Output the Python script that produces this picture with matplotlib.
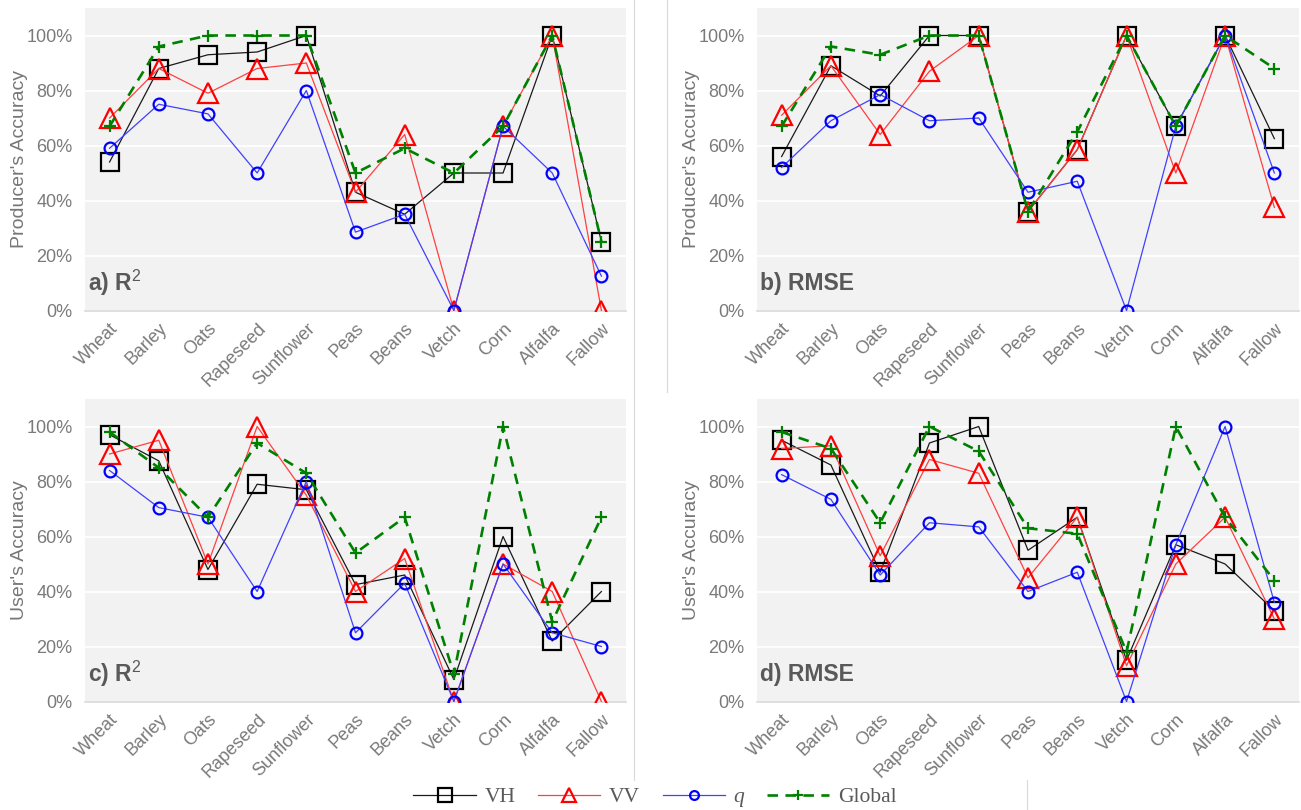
import matplotlib
matplotlib.use('Agg')
import matplotlib.pyplot as plt
from matplotlib.lines import Line2D

categories = ['Wheat', 'Barley', 'Oats', 'Rapeseed', 'Sunflower', 'Peas',
              'Beans', 'Vetch', 'Corn', 'Alfalfa', 'Fallow']
y_ticks = [0, 20, 40, 60, 80, 100]
y_tick_labels = ['0%', '20%', '40%', '60%', '80%', '100%']

# a) Producer's accuracy, R2
pa_r2_vh = [54, 88, 93, 94, 100, 43, 35, 50, 50, 100, 25]
pa_r2_vv = [70, 88, 79, 88, 90, 43, 64, 0, 67, 100, 0]
pa_r2_q = [59, 75, 71.5, 50, 80, 28.5, 35, 0, 67, 50, 12.5]
pa_r2_global = [67, 96, 100, 100, 100, 50, 59, 50, 67, 100, 25]

# b) Producer's accuracy, RMSE
pa_rmse_vh = [56, 89, 78, 100, 100, 36, 58.5, 100, 67, 100, 62.5]
pa_rmse_vv = [71, 89, 64, 87, 100, 36, 58.5, 100, 50, 100, 37.5]
pa_rmse_q = [52, 69, 78.5, 69, 70, 43, 47, 0, 67, 100, 50]
pa_rmse_global = [67, 96, 93, 100, 100, 36, 65, 100, 67, 100, 88]

# c) User's accuracy, R2
ua_r2_vh = [97, 87.5, 48, 79, 77, 42.5, 46, 8, 60, 22, 40]
ua_r2_vv = [90, 95, 50, 100, 75, 40, 52, 0, 50, 40, 0]
ua_r2_q = [84, 70.5, 67, 40, 80, 25, 43, 0, 50, 25, 20]
ua_r2_global = [98, 85, 67, 94, 83, 54, 67, 10, 100, 29, 67]

# d) User's accuracy, RMSE
ua_rmse_vh = [95, 86, 47, 94, 100, 55, 67, 15, 57, 50, 33]
ua_rmse_vv = [92, 93, 53, 88, 83, 45, 67, 13, 50, 67, 30]
ua_rmse_q = [82.5, 73.5, 46, 65, 63.5, 40, 47, 0, 57, 100, 36]
ua_rmse_global = [98, 92, 65, 100, 91, 63, 61, 18, 100, 67, 44]

panels = [
    ('a) R$^{2}$', "Producer's Accuracy", pa_r2_vh, pa_r2_vv, pa_r2_q, pa_r2_global),
    ('b) RMSE', "Producer's Accuracy", pa_rmse_vh, pa_rmse_vv, pa_rmse_q, pa_rmse_global),
    ('c) R$^{2}$', "User's Accuracy", ua_r2_vh, ua_r2_vv, ua_r2_q, ua_r2_global),
    ('d) RMSE', "User's Accuracy", ua_rmse_vh, ua_rmse_vv, ua_rmse_q, ua_rmse_global),
]

plt.rcParams['font.family'] = ['Liberation Sans', 'DejaVu Sans']
plt.rcParams['mathtext.fontset'] = 'custom'
plt.rcParams['mathtext.rm'] = 'Liberation Sans'
plt.rcParams['mathtext.bf'] = 'Liberation Sans:bold'

W, H = 1301, 810
fig = plt.figure(figsize=(W / 100, H / 100), dpi=100)

# axes rectangles in pixels: left, right, y of 0%, x of y-label right edge
rects = [(85, 626, 310.5, 28), (757, 1299, 310.5, 700),
         (85, 626, 701.5, 28), (757, 1299, 701.5, 700)]
ymax = 110
pxper = 2.75

styles = {
    'VH': dict(color='#1a1a1a', lw=0.9, marker='s', ms=12.5, mfc='none', mec='black', mew=1.6),
    'VV': dict(color='#ff4040', lw=0.9, marker='^', ms=14, mfc='none', mec='#ff0000', mew=1.6),
    'q': dict(color='#4040ff', lw=0.9, marker='o', ms=8.5, mfc='none', mec='#0000ff', mew=1.6),
    'Global': dict(color='#008000', lw=1.9, ls=(0, (4, 2.8)), marker='+', ms=9, mec='#008000', mew=1.6),
}

tick_color = '#7a7a7a'
x = list(range(len(categories)))

for (title, ylab, vh, vv, q, gl), (l, r, y0, lx) in zip(panels, rects):
    height_px = ymax * pxper
    ax = fig.add_axes([l / W, (H - y0) / H, (r - l) / W, height_px / H])
    ax.set_facecolor('#f2f2f2')
    ax.set_xlim(-0.5, len(categories) - 0.5)
    ax.set_ylim(0, ymax)
    ax.set_yticks(y_ticks)
    ax.set_yticklabels(y_tick_labels)
    ax.set_xticks(x)
    ax.set_xticklabels(categories, rotation=45, ha='right', va='top', rotation_mode='anchor')
    ax.tick_params(axis='both', length=0, labelsize=13, colors=tick_color)
    ax.tick_params(axis='y', pad=9)
    ax.tick_params(axis='x', pad=7)
    ax.grid(axis='y', color='white', lw=1.3)
    ax.set_axisbelow(True)
    for s in ['top', 'right', 'left']:
        ax.spines[s].set_visible(False)
    ax.spines['bottom'].set_color('#d9d9d9')
    ax.spines['bottom'].set_linewidth(1.2)
    ax.plot(x, vh, **styles['VH'], zorder=3)
    ax.plot(x, vv, **styles['VV'], zorder=4)
    ax.plot(x, q, **styles['q'], zorder=5)
    ax.plot(x, gl, **styles['Global'], zorder=6)
    ax.set_ylabel(ylab, fontsize=14, color='#767676')
    ax.yaxis.set_label_coords(-(l - lx) / (r - l), 0.5)
    ax.text(0.006, 0.09, title, transform=ax.transAxes, fontsize=16.5,
            fontweight='bold', color='#595959', ha='left', va='center', zorder=7)

# faint chart-area borders
def vline(xp, ya, yb):
    fig.add_artist(Line2D([xp / W, xp / W], [1 - ya / H, 1 - yb / H],
                          color='#d9d9d9', lw=0.8))

vline(634, 0, 780)
vline(667, 0, 392)
vline(1027, 780, 810)

handles = [
    Line2D([], [], **styles['VH']),
    Line2D([], [], **styles['VV']),
    Line2D([], [], **styles['q']),
    Line2D([], [], **styles['Global']),
]
for h in handles:
    h.set_markersize(h.get_markersize() * 0.75)
leg = fig.legend(handles, ['VH', 'VV', 'q', 'Global'], loc='center',
                 bbox_to_anchor=(655 / W, 1 - 797 / H), ncol=4, frameon=False,
                 handlelength=2.9, handletextpad=0.4, columnspacing=1.05,
                 prop={'family': 'Liberation Serif', 'size': 15.5})
for t in leg.get_texts():
    t.set_color('#595959')
    if t.get_text() == 'q':
        t.set_fontstyle('italic')

fig.savefig('out.png', dpi=100)
